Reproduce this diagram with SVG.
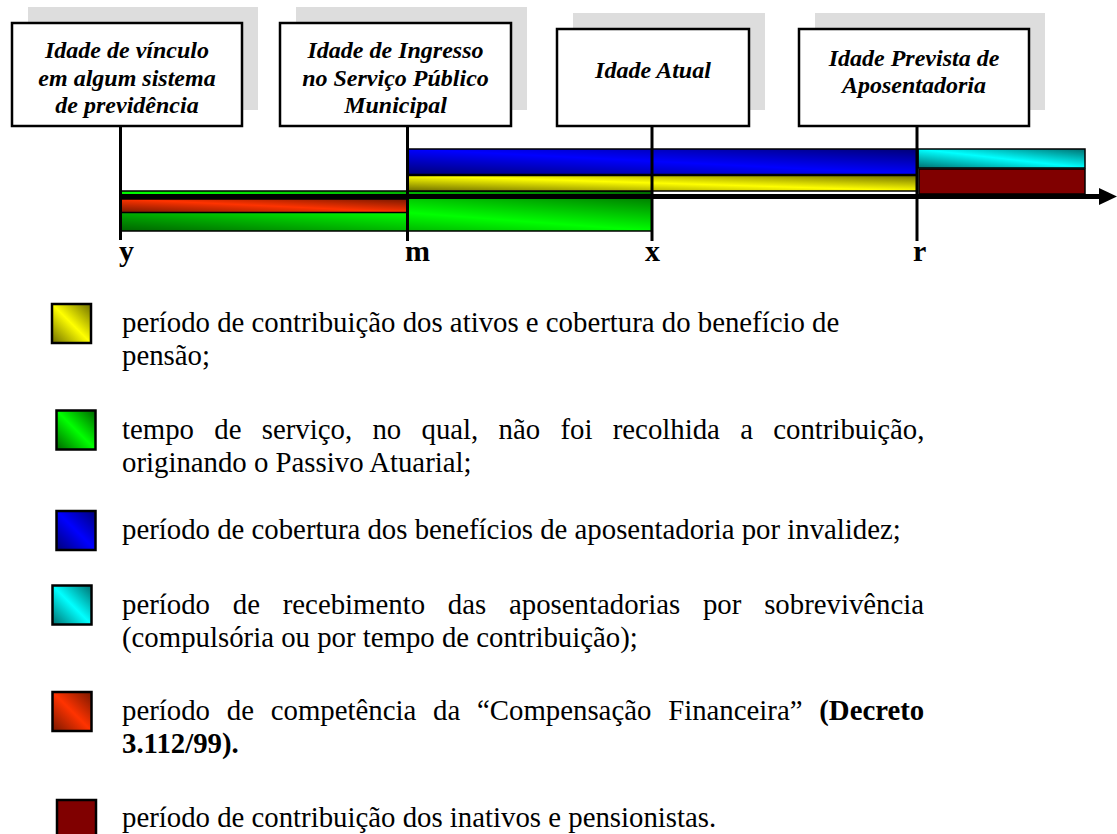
<svg xmlns="http://www.w3.org/2000/svg" width="1117" height="834" viewBox="0 0 1117 834">
<style>
.shadow{fill:#dddddd}
.box{fill:#fff;stroke:#000;stroke-width:2.5}
.bt{font-family:"Liberation Serif","Times New Roman",serif;font-size:24px;font-weight:bold;font-style:italic;text-anchor:middle;fill:#000}
.lbl{font-family:"Liberation Serif","Times New Roman",serif;font-size:30px;font-weight:bold;fill:#000}
.leg{font-family:"Liberation Serif","Times New Roman",serif;font-size:28.8px;fill:#000}
.b{font-weight:bold}
.tick{stroke:#000;stroke-width:3;fill:none}
.bar{stroke:#000;stroke-width:1.5}
.sw{stroke:#000;stroke-width:2.5}
</style>
<defs>
<linearGradient id="gY" x1="0" y1="1" x2="1" y2="0"><stop offset="0" stop-color="#6e6e00"/><stop offset="0.5" stop-color="#ffff00"/><stop offset="1" stop-color="#6e6e00"/></linearGradient>
<linearGradient id="gG" x1="0" y1="1" x2="1" y2="0"><stop offset="0" stop-color="#006400"/><stop offset="0.5" stop-color="#00ff00"/><stop offset="1" stop-color="#006400"/></linearGradient>
<linearGradient id="gB" x1="0" y1="1" x2="1" y2="0"><stop offset="0" stop-color="#000078"/><stop offset="0.5" stop-color="#0000ff"/><stop offset="1" stop-color="#000078"/></linearGradient>
<linearGradient id="gC" x1="0" y1="1" x2="1" y2="0"><stop offset="0" stop-color="#007070"/><stop offset="0.5" stop-color="#00ffff"/><stop offset="1" stop-color="#007070"/></linearGradient>
<linearGradient id="gR" x1="0" y1="1" x2="1" y2="0"><stop offset="0" stop-color="#781800"/><stop offset="0.5" stop-color="#ff3300"/><stop offset="1" stop-color="#781800"/></linearGradient>
</defs>

<g id="node-vinculo">
<rect class="shadow" x="28" y="7" width="230" height="103"/>
<rect class="box" x="12" y="23" width="230" height="103"/>
<text class="bt" x="127" y="58">Idade de vínculo</text>
<text class="bt" x="127" y="85.5">em algum sistema</text>
<text class="bt" x="127" y="113">de previdência</text>
</g>
<g id="node-ingresso">
<rect class="shadow" x="296" y="7" width="231" height="103"/>
<rect class="box" x="280" y="23" width="231" height="103"/>
<text class="bt" x="395.5" y="58">Idade de Ingresso</text>
<text class="bt" x="395.5" y="85.5">no Serviço Público</text>
<text class="bt" x="395.5" y="113">Municipal</text>
</g>
<g id="node-atual">
<rect class="shadow" x="573" y="13" width="192" height="97"/>
<rect class="box" x="557" y="29" width="192" height="97"/>
<text class="bt" x="653" y="78">Idade Atual</text>
</g>
<g id="node-aposentadoria">
<rect class="shadow" x="815" y="13" width="230" height="97"/>
<rect class="box" x="799" y="29" width="230" height="97"/>
<text class="bt" x="914" y="66">Idade Prevista de</text>
<text class="bt" x="914" y="93">Aposentadoria</text>
</g>

<g id="bars">
<rect class="bar" x="120" y="191" width="532" height="40" fill="url(#gG)"/>
<rect class="bar" x="120" y="199" width="288" height="13.5" fill="url(#gR)"/>
<rect class="bar" x="408" y="149" width="509" height="25.5" fill="url(#gB)"/>
<rect class="bar" x="408" y="175.5" width="509" height="15.5" fill="url(#gY)"/>
<rect class="bar" x="918" y="149" width="167" height="19" fill="url(#gC)"/>
<rect class="bar" x="919" y="169" width="166" height="25" fill="#800000"/>
</g>

<g id="connectors">
<line x1="120" y1="196.5" x2="1101" y2="196.5" stroke="#000" stroke-width="5"/>
<polygon points="1099,188 1117,196.5 1099,205" fill="#000"/>
<line class="tick" x1="120.5" y1="126" x2="120.5" y2="240"/>
<line class="tick" x1="407.5" y1="126" x2="407.5" y2="241"/>
<line class="tick" x1="652" y1="126" x2="652" y2="241"/>
<line class="tick" x1="917" y1="126" x2="917" y2="241"/>
</g>

<g id="axis-labels">
<text class="lbl" x="119" y="261">y</text>
<text class="lbl" x="405" y="261">m</text>
<text class="lbl" x="645" y="261">x</text>
<text class="lbl" x="913" y="261">r</text>
</g>

<g id="legend-yellow">
<rect class="sw" x="52" y="304" width="39" height="39" fill="url(#gY)"/>
<text class="leg" x="122" y="332">período de contribuição dos ativos e cobertura do benefício de</text>
<text class="leg" x="122" y="365">pensão;</text>
</g>
<g id="legend-green">
<rect class="sw" x="56.5" y="410.5" width="39" height="39" fill="url(#gG)"/>
<text class="leg" x="122" y="438.5" word-spacing="13.1">tempo de serviço, no qual, não foi recolhida a contribuição,</text>
<text class="leg" x="122" y="471.5">originando o Passivo Atuarial;</text>
</g>
<g id="legend-blue">
<rect class="sw" x="56.5" y="511" width="39" height="39" fill="url(#gB)"/>
<text class="leg" x="122" y="539">período de cobertura dos benefícios de aposentadoria por invalidez;</text>
</g>
<g id="legend-cyan">
<rect class="sw" x="52.5" y="585.5" width="39" height="39" fill="url(#gC)"/>
<text class="leg" x="122" y="613.5" word-spacing="15.6">período de recebimento das aposentadorias por sobrevivência</text>
<text class="leg" x="122" y="646.5">(compulsória ou por tempo de contribuição);</text>
</g>
<g id="legend-red">
<rect class="sw" x="52.5" y="692" width="39" height="39" fill="url(#gR)"/>
<text class="leg" x="122" y="720" word-spacing="9.6">período de competência da “Compensação Financeira” <tspan class="b">(Decreto</tspan></text>
<text class="leg b" x="122" y="753">3.112/99).</text>
</g>
<g id="legend-maroon">
<rect class="sw" x="57" y="800" width="39" height="39" fill="#800000"/>
<text class="leg" x="122" y="827">período de contribuição dos inativos e pensionistas.</text>
</g>
</svg>
